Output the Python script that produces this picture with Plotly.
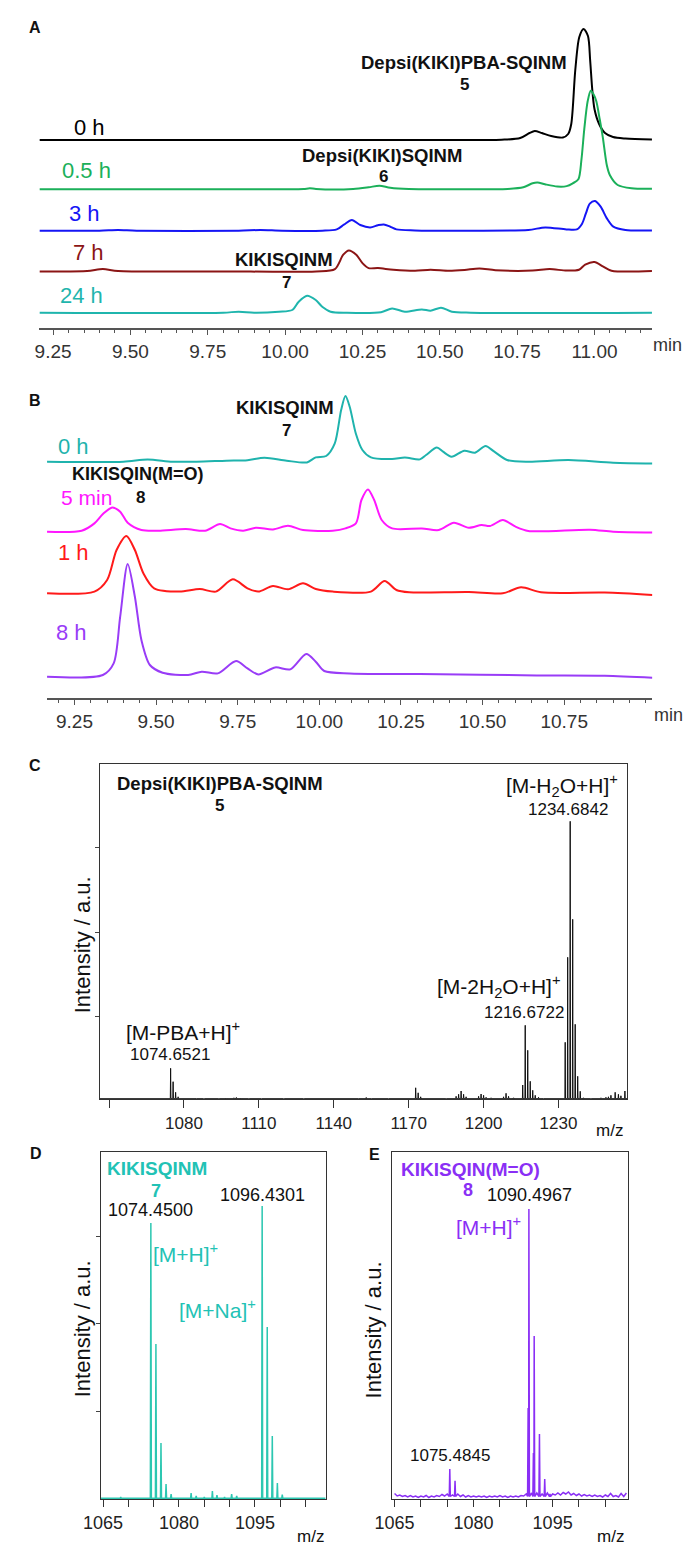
import numpy as np
import plotly.graph_objects as go

W, H = 687, 1546
FONT = "Liberation Sans, Arial, Helvetica, sans-serif"

# ---------------------------------------------------------------
# Panel A: HPLC traces, conversion of 5 -> 6 -> 7 (time in min, signal a.u.)
# ---------------------------------------------------------------
A_LABELS = ["0 h", "0.5 h", "3 h", "7 h", "24 h"]
A_0H_T = [9.206, 9.6, 10.0, 10.4, 10.70, 10.76, 10.79, 10.807, 10.83, 10.86, 10.898,
          10.915, 10.925, 10.938, 10.951, 10.965, 10.979, 10.986, 10.993, 11.0, 11.015,
          11.034, 11.06, 11.10, 11.186]
A_0H_Y = [0, 0, 0, 0, 0.3, 2, 7, 9, 7, 4, 2.5,
          6, 16, 70, 103, 111, 104, 80, 50, 31, 16,
          7, 3, 1.5, 0.5]
A_05H_T = [9.206, 9.6, 10.0, 10.06, 10.08, 10.1, 10.22, 10.27, 10.305, 10.34, 10.4, 10.55,
           10.72, 10.77, 10.80, 10.816, 10.84, 10.88, 10.91, 10.93, 10.948, 10.958, 10.967,
           10.978, 10.988, 10.997, 11.006, 11.017, 11.027, 11.04, 11.05, 11.075, 11.12, 11.186]
A_05H_Y = [0, 0, 0, 0.3, 1, 0.3, 0.3, 2, 3.6, 1.5, 0.2, 0,
           0.4, 2, 6, 6.7, 5, 2.8, 3.2, 6, 10, 30, 60,
           88, 98.6, 95, 88, 70, 52, 24, 14, 4.3, 1, 0.5]
A_3H_T = [9.206, 9.40, 9.46, 9.52, 9.85, 9.92, 9.99, 10.12, 10.167, 10.19, 10.216, 10.243,
          10.275, 10.30, 10.319, 10.34, 10.36, 10.42, 10.6, 10.786, 10.841, 10.909, 10.943,
          10.96, 10.972, 10.985, 11.002, 11.02, 11.04, 11.061, 11.10, 11.186]
A_3H_Y = [0, 0, 0.7, 0, 0, 0.7, 0, 0, 1.3, 6, 10.7, 5.7,
          3.3, 5.5, 6.3, 4, 1.3, 0.3, 0, 0.7, 3.3, 1.3, 1.3,
          7, 17, 27, 29.7, 24, 12.3, 4, 0.7, 0.3]
A_7H_T = [9.206, 9.36, 9.411, 9.46, 9.8, 10.10, 10.161, 10.188, 10.206, 10.23, 10.25, 10.27,
          10.30, 10.35, 10.42, 10.47, 10.53, 10.58, 10.628, 10.68, 10.80, 10.855, 10.91,
          10.95, 10.97, 11.0, 11.027, 11.055, 11.186]
A_7H_Y = [0, 0.3, 2.3, 0.3, 0, 0, 2.3, 16.7, 21, 16.7, 8.3, 3.3,
          3.3, 1.7, 0.7, 1.7, 0.7, 1.5, 3, 1.2, 0.8, 2.3, 0.8,
          1.7, 6.7, 9.3, 5, 0.7, 0.3]
A_24H_T = [9.206, 9.8, 9.85, 9.9, 9.98, 10.023, 10.044, 10.071, 10.099, 10.12, 10.147, 10.2,
           10.31, 10.346, 10.387, 10.442, 10.47, 10.504, 10.539, 10.6, 11.186]
A_24H_Y = [0, 0, 1, 0, 1, 2.7, 11, 17, 12.7, 6, 1, 0,
           0.5, 4.3, 1, 3.3, 2, 5, 1, 0, 0]

# ---------------------------------------------------------------
# Panel B: HPLC traces, oxidation of 7 -> 8
# ---------------------------------------------------------------
B_LABELS = ["0 h", "5 min", "1 h", "8 h"]
B_0H_T = [9.166, 9.40, 9.474, 9.55, 9.624, 9.715, 9.78, 9.832, 9.90, 9.962, 9.989, 10.021,
          10.047, 10.067, 10.08, 10.093, 10.112, 10.132, 10.158, 10.223, 10.262, 10.308,
          10.327, 10.36, 10.379, 10.405, 10.444, 10.477, 10.509, 10.536, 10.575, 10.64,
          10.763, 10.9, 11.02]
B_0H_Y = [0, 0, 2.3, 0, 0, 1, 1.5, 4, 1, -0.7, 4.3, 5.7,
          18, 52, 65.7, 55, 28, 11.7, 4.3, 2.7, 4.3, 2.3,
          6.7, 14.3, 10, 5, 11, 9, 15.7, 10, 1.7, 0,
          1.7, -1, -1.7]
B_5M_T = [9.166, 9.272, 9.311, 9.337, 9.366, 9.39, 9.413, 9.455, 9.507, 9.591, 9.65, 9.696,
          9.728, 9.767, 9.806, 9.858, 9.904, 9.95, 10.041, 10.08, 10.112, 10.129, 10.149,
          10.168, 10.191, 10.223, 10.314, 10.366, 10.412, 10.458, 10.497, 10.523, 10.562,
          10.601, 10.64, 10.829, 10.9, 11.02]
B_5M_Y = [0, 1, 8.3, 17.7, 24.3, 20, 9, 1.7, 1, 2.7, 1, 7.7,
          3.3, 1, 4, 2.3, 6, 1.7, 1, 3.3, 8.3, 31.7, 42.3,
          31.7, 11.7, 3.3, 3.3, 1.7, 9, 4, 6.7, 5.7, 11.7,
          5, 0.7, 2, 0, -0.7]
B_1H_T = [9.166, 9.311, 9.35, 9.379, 9.409, 9.435, 9.461, 9.494, 9.572, 9.634, 9.683, 9.735,
          9.78, 9.813, 9.858, 9.904, 9.95, 9.989, 10.041, 10.158, 10.2, 10.236, 10.275,
          10.458, 10.562, 10.618, 10.679, 10.874, 11.02]
B_1H_Y = [0, 1.7, 13.3, 43.3, 57.3, 43.3, 20, 5, 1.7, 4.3, 1.7, 14,
          5, 1.7, 7.3, 4, 10, 4.3, 1.7, 1.7, 12.3, 3.3, 1,
          1.3, 0, 6, 1, 0.7, -1.7]
B_8H_T = [9.166, 9.337, 9.37, 9.39, 9.413, 9.435, 9.455, 9.481, 9.52, 9.598, 9.64, 9.689,
          9.745, 9.78, 9.813, 9.865, 9.911, 9.96, 9.989, 10.015, 10.093, 10.197, 10.308,
          10.666, 10.874, 11.02]
B_8H_Y = [0, 1.7, 13.3, 60, 112.7, 80, 36.7, 11.7, 4, 1.7, 5, 3.3,
          15.7, 8.3, 2.3, 9.3, 7.3, 22.7, 15, 5.7, 3.3, 2.7, 2.7,
          1.3, 1, -1]

# ---------------------------------------------------------------
# Panel C: MS of Depsi(KIKI)PBA-SQINM (5), centroid peaks
# ---------------------------------------------------------------
C_MZ = [1052, 1055, 1059, 1063, 1068, 1074.6521, 1075.655, 1076.658, 1077.66,
        1085, 1088, 1094, 1097, 1100, 1101, 1103, 1106, 1111, 1120, 1128,
        1150, 1153, 1155, 1162, 1172.8, 1173.8, 1174.8, 1185, 1189, 1190, 1191,
        1192, 1193, 1198, 1199, 1200, 1201, 1203, 1208, 1209, 1210, 1212,
        1215.67, 1216.6722, 1217.675, 1218.68, 1219.68, 1220.68, 1222, 1224,
        1232.68, 1233.68, 1234.6842, 1235.687, 1236.69, 1237.69, 1238.7,
        1240, 1243, 1247, 1249, 1250, 1251, 1252.7, 1254, 1255, 1256.6]
C_INT = [0.8, 0.8, 1, 0.8, 1, 31, 17.6, 7, 2.5,
         1, 0.8, 1, 1.2, 1.5, 1.8, 1.2, 1, 0.8, 0.8, 0.8,
         1, 1.8, 1, 0.8, 11.5, 6.5, 2.5, 1, 3, 5, 8.3,
         5, 2.5, 3, 5.3, 4, 2, 1.5, 2.5, 6, 3, 1.5,
         14.3, 74, 49, 18, 9, 4, 2, 1,
         57, 142, 278, 180, 75, 23, 8,
         1.5, 1, 1.5, 2, 2.5, 4, 7, 5, 3.5, 8.3]

# ---------------------------------------------------------------
# Panel D: MS of KIKISQINM (7)
# ---------------------------------------------------------------
D_MZ = [1066.5, 1068.5, 1074.4500, 1075.45, 1076.45, 1077.45, 1078.45, 1082.4, 1083.4,
        1085.0, 1086.6, 1087.5, 1089.0, 1090.4, 1091.4,
        1096.4301, 1097.43, 1098.43, 1099.43, 1100.4]
D_INT = [1.5, 2, 276, 155, 56, 15, 5, 6, 3,
         2, 8, 4, 2, 5, 3,
         293, 172, 63, 16, 4.5]

# ---------------------------------------------------------------
# Panel E: MS of KIKISQIN(M=O) (8)
# ---------------------------------------------------------------
E_MZ = [1075.4845, 1076.48, 1090.35, 1090.4967, 1091.35, 1091.5, 1092.5, 1093.5, 1094.5]
E_INT = [30, 18.3, 91, 290, 46, 163, 65, 20, 5]
# baseline signal, one value every 0.5 m/z from 1065.0
E_BASE_START, E_BASE_STEP = 1065.0, 0.5
E_BASE = [5.5, 3, 4, 2.5, 3.5, 2, 3.5, 2, 3, 1.5,
          3, 2, 3.5, 1.5, 3, 2, 3.5, 2.5, 4.5, 3,
          5, 3, 4, 3, 5, 2.5, 4, 2, 3.5, 2,
          3, 2, 3, 2, 3, 1.5, 3, 2, 3, 2,
          3.5, 2, 3, 1.5, 3, 2, 3, 2, 3.5, 3,
          5, 4, 6, 4, 6, 4, 5, 4, 6, 4,
          5, 4, 6, 4, 6.5, 5, 7, 4, 5.5, 3.5,
          5, 3, 4.5, 3, 4, 2.5, 4, 2.5, 3.5, 2,
          4, 2.5, 5.5, 2.5, 3.5, 2, 5.5, 2.5, 6]

# ---------------------------------------------------------------
# helpers
# ---------------------------------------------------------------
def px(x):
    return x / W


def py(y):
    return 1 - y / H


def profile(peak_mz, peak_int, base_mz, base_int, half, floor):
    """Line through baseline points with a narrow spike for every peak."""
    pts = [(m, v) for m, v in zip(base_mz, base_int)
           if min(abs(m - p) for p in peak_mz) > 1.5 * half]
    for m, v in zip(peak_mz, peak_int):
        pts += [(m - half, floor), (m, v), (m + half, floor)]
    pts.sort()
    return [p[0] for p in pts], [p[1] for p in pts]


def label(text, x, y, size, color="#111111", bold=False, angle=0):
    if bold:
        text = f"<b>{text}</b>"
    return dict(text=text, x=px(x), y=py(y), xref="paper", yref="paper",
                showarrow=False, xanchor="center", yanchor="middle", borderpad=0,
                textangle=angle, font=dict(family=FONT, size=size, color=color))


fig = go.Figure()

# ----- panel A traces (stacked by vertical offsets) -----
a_series = [(A_0H_T, A_0H_Y, 188.0, "#000000"),
            (A_05H_T, A_05H_Y, 138.7, "#1bb05a"),
            (A_3H_T, A_3H_Y, 97.3, "#1515f5"),
            (A_7H_T, A_7H_Y, 56.6, "#8b1515"),
            (A_24H_T, A_24H_Y, 15.3, "#1fb5ad")]
for name, (t, v, off, col) in zip(A_LABELS, a_series):
    fig.add_trace(go.Scatter(x=t, y=[q + off for q in v], mode="lines", name=name,
                             line=dict(color=col, width=2, shape="spline", smoothing=0.8),
                             xaxis="x", yaxis="y", showlegend=False))

# ----- panel B traces -----
b_series = [(B_0H_T, B_0H_Y, 236.6, "#1fb3ad"),
            (B_5M_T, B_5M_Y, 166.6, "#ff17ff"),
            (B_1H_T, B_1H_Y, 105.0, "#ff1a1a"),
            (B_8H_T, B_8H_Y, 21.6, "#993cf7")]
for name, (t, v, off, col) in zip(B_LABELS, b_series):
    fig.add_trace(go.Scatter(x=t, y=[q + off for q in v], mode="lines", name=name,
                             line=dict(color=col, width=2, shape="spline", smoothing=0.8),
                             xaxis="x2", yaxis="y2", showlegend=False))

# ----- panel C spectrum -----
cx, cy = profile(C_MZ, C_INT, [1046.3, 1257.5], [0.6, 0.6], 0.12, 0.6)
fig.add_trace(go.Scatter(x=cx, y=cy, mode="lines", line=dict(color="#111111", width=1),
                         xaxis="x3", yaxis="y3", showlegend=False))

# ----- panel D spectrum -----
dx, dy = profile(D_MZ, D_INT, [1064.6, 1108.95], [0.8, 0.8], 0.1, 0.8)
fig.add_trace(go.Scatter(x=dx, y=dy, mode="lines", line=dict(color="#2cc7b1", width=1.5),
                         xaxis="x4", yaxis="y4", showlegend=False))

# ----- panel E spectrum -----
e_base_mz = [E_BASE_START + E_BASE_STEP * i for i in range(len(E_BASE))]
ex, ey = profile(E_MZ, E_INT, e_base_mz, E_BASE, 0.1, 2.5)
fig.add_trace(go.Scatter(x=ex, y=ey, mode="lines", line=dict(color="#8a2ff5", width=1.5),
                         xaxis="x5", yaxis="y5", showlegend=False))

# ----- axes -----
AX = "#555555"
TXT = "#333333"
a_major = [9.25 + 0.25 * i for i in range(8)]
a_minor = [9.25 + 0.05 * i for i in range(39)]
b_major = [9.25 + 0.25 * i for i in range(7)]
b_minor = [9.20 + 0.05 * i for i in range(37)]

chrom_x = dict(showline=True, linecolor=AX, linewidth=1.5, ticks="outside",
               ticklen=5, tickwidth=1, tickcolor=AX, showgrid=False, zeroline=False,
               tickfont=dict(family=FONT, size=19, color=TXT))
hidden_y = dict(visible=False, showgrid=False, zeroline=False)

spec_x = dict(showline=True, mirror=True, linecolor="#333333", linewidth=1.2,
              ticks="outside", tickwidth=1, tickcolor="#333333", showgrid=False,
              zeroline=False, tickmode="array")
spec_y = dict(showline=True, mirror=True, linecolor="#333333", linewidth=1.2,
              showgrid=False, zeroline=False, showticklabels=False, tickmode="array")

d_major = [1065, 1080, 1095]
d_minor = [1070, 1075, 1085, 1090, 1100, 1105]
c_major = [1080 + 30 * i for i in range(6)]

fig.update_layout(
    width=W, height=H, margin=dict(l=0, r=0, t=0, b=0),
    paper_bgcolor="white", plot_bgcolor="rgba(0,0,0,0)",
    xaxis=dict(chrom_x, domain=[px(22), px(651)], range=[9.2059, 11.1858],
               tickmode="array", tickvals=a_major, ticktext=[f"{v:.2f}" for v in a_major],
               minor=dict(tickmode="array", tickvals=a_minor, ticks="outside",
                          ticklen=3, tickcolor=AX), anchor="y"),
    yaxis=dict(hidden_y, domain=[py(328), py(18)], range=[0, 310], anchor="x"),
    xaxis2=dict(chrom_x, domain=[px(29.7), px(651.5)], range=[9.1656, 11.0203],
                tickmode="array", tickvals=b_major,
                ticktext=[f"{v:.2f}" for v in b_major],
                minor=dict(tickmode="array", tickvals=b_minor, ticks="outside",
                           ticklen=3, tickcolor=AX), anchor="y2"),
    yaxis2=dict(hidden_y, domain=[py(698.3), py(370)], range=[0, 328.3], anchor="x2"),
    xaxis3=dict(spec_x, domain=[px(84), px(625.7)], range=[1046.29, 1257.56],
                tickvals=c_major, ticktext=[str(v) for v in c_major], ticklen=8,
                minor=dict(tickmode="array", tickvals=[1050], ticks="outside",
                           ticklen=8, tickcolor="#333333"),
                tickfont=dict(family=FONT, size=17, color="#222222"), anchor="y3"),
    yaxis3=dict(spec_y, domain=[py(1099.3), py(764)], range=[0, 335.3],
                tickvals=[83, 167, 251.5], ticks="outside", ticklen=4, anchor="x3"),
    xaxis4=dict(spec_x, domain=[px(85), px(316)], range=[1064.56, 1108.98],
                tickvals=d_major, ticktext=[str(v) for v in d_major], ticklen=7,
                minor=dict(tickmode="array", tickvals=d_minor, ticks="outside",
                           ticklen=7, tickcolor="#333333"),
                tickfont=dict(family=FONT, size=18, color="#222222"), anchor="y4"),
    yaxis4=dict(spec_y, domain=[py(1499), py(1151.7)], range=[0, 347.3],
                tickvals=[88, 176, 263], ticks="outside", ticklen=4, anchor="x4"),
    xaxis5=dict(spec_x, domain=[px(384.3), px(626)], range=[1064.56, 1109.23],
                tickvals=d_major, ticktext=[str(v) for v in d_major], ticklen=7,
                minor=dict(tickmode="array", tickvals=d_minor, ticks="outside",
                           ticklen=7, tickcolor="#333333"),
                tickfont=dict(family=FONT, size=18, color="#222222"), anchor="y5"),
    yaxis5=dict(spec_y, domain=[py(1499), py(1151.7)], range=[0, 347.3],
                tickvals=[], ticks="", anchor="x5"),
)

# ----- text -----
BOLD = 18.5
c_lab = {m: f"{m:.4f}" for m in C_MZ}
ann = [
    # panel A
    label("A", 17.5, 27, 16, bold=True),
    label("Depsi(KIKI)PBA-SQINM", 458, 63, BOLD, bold=True),
    label("5", 458.5, 85, 17, bold=True),
    label(A_LABELS[0], 73, 128, 22, "#000000"),
    label(A_LABELS[1], 70, 170, 22, "#1bb05a"),
    label("Depsi(KIKI)SQINM", 373.5, 155, BOLD, bold=True),
    label("6", 375.5, 177, 17, bold=True),
    label(A_LABELS[2], 68.5, 213, 22, "#1515f5"),
    label(A_LABELS[3], 72, 253, 22, "#8b1515"),
    label("KIKISQINM", 273, 259, BOLD, bold=True),
    label("7", 276, 282, 17, bold=True),
    label(A_LABELS[4], 65, 295, 22, "#1fb5ad"),
    label("min", 667, 345, 18, TXT),
    # panel B
    label("B", 17.5, 400, 16, bold=True),
    label("KIKISQINM", 274, 408, BOLD, bold=True),
    label("7", 276, 431, 17, bold=True),
    label(B_LABELS[0], 57, 446, 22, "#1fb3ad"),
    label("KIKISQIN(M=O)", 123, 474.5, 18, bold=True),
    label(B_LABELS[1], 70, 497, 21, "#ff17ff"),
    label("8", 126, 497, 17, bold=True),
    label(B_LABELS[2], 57, 552, 22, "#ff1a1a"),
    label(B_LABELS[3], 55, 632, 22, "#993cf7"),
    label("min", 668, 715, 18, TXT),
    # panel C
    label("C", 17.5, 766, 16, bold=True),
    label("Depsi(KIKI)PBA-SQINM", 207.5, 783, BOLD, bold=True),
    label("5", 207, 805, 17, bold=True),
    label("[M-H<sub>2</sub>O+H]<sup>+</sup>", 559, 785, 21),
    label(c_lab[1234.6842], 565, 809, 17),
    label("[M-2H<sub>2</sub>O+H]<sup>+</sup>", 493.5, 987, 21),
    label(c_lab[1216.6722], 520, 1013, 17),
    label("[M-PBA+H]<sup>+</sup>", 169, 1031, 21),
    label(c_lab[1074.6521], 156, 1054, 17),
    label("Intensity / a.u.", 66, 945, 22, angle=-90),
    label("m/z", 607, 1130, 17),
    # panel D
    label("D", 18, 1153, 16, bold=True),
    label("KIKISQINM", 143, 1168, 19, "#22c2b5", bold=True),
    label("7", 141.7, 1191, 18, "#22c2b5", bold=True),
    label(f"{D_MZ[2]:.4f}", 136.3, 1210, 18),
    label(f"{D_MZ[15]:.4f}", 250.7, 1195, 18),
    label("[M+H]<sup>+</sup>", 172, 1253, 21, "#22c2b5"),
    label("[M+Na]<sup>+</sup>", 205, 1309, 21, "#22c2b5"),
    label("Intensity / a.u.", 66, 1329, 22, angle=-90),
    label("m/z", 300, 1536, 17),
    # panel E
    label("E", 366, 1154, 16, bold=True),
    label("KIKISQIN(M=O)", 465, 1169, 19, "#8a2ff5", bold=True),
    label("8", 461.7, 1190, 18, "#8a2ff5", bold=True),
    label(f"{E_MZ[3]:.4f}", 525.3, 1195, 18),
    label("[M+H]<sup>+</sup>", 483.5, 1226, 21, "#8a2ff5"),
    label(f"{E_MZ[0]:.4f}", 443.8, 1455, 17),
    label("Intensity / a.u.", 365, 1330, 22, angle=-90),
    label("m/z", 608, 1536, 17),
]
fig.update_layout(annotations=ann)

fig.write_html("out.html")
